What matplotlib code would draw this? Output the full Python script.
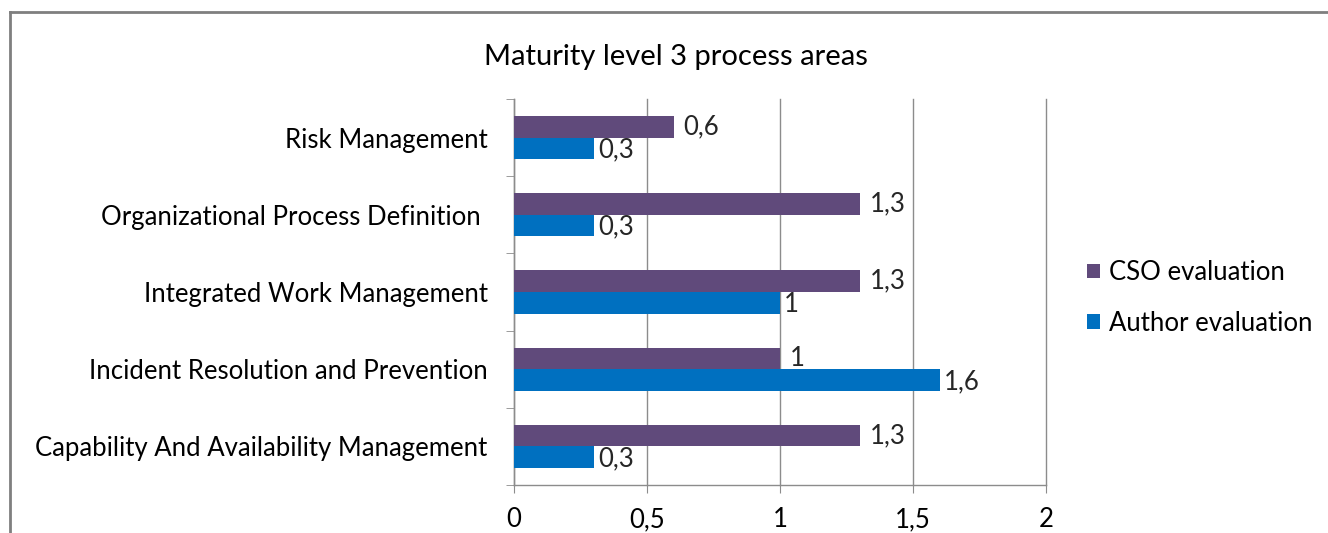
import matplotlib.pyplot as plt
from matplotlib.lines import Line2D

plt.rcParams['font.family'] = ['Lato', 'DejaVu Sans']

categories = [
    "Capability And Availability Management",
    "Incident Resolution and Prevention",
    "Integrated Work Management",
    "Organizational Process Definition ",
    "Risk Management",
]
cso_values = [1.3, 1.0, 1.3, 1.3, 0.6]
author_values = [0.3, 1.6, 1.0, 0.3, 0.3]
x_ticks = [0, 0.5, 1, 1.5, 2]

cso_color = "#604A7B"
author_color = "#0070C0"
grid_color = "#8C8C8C"
fs = 18.5


def fmt(v):
    return f"{v:g}".replace(".", ",")


fig = plt.figure(figsize=(13.28, 5.33), dpi=100)
ax = fig.add_axes([514 / 1328, 1 - 485 / 533, 532 / 1328, 386 / 533])

pos = list(range(len(categories)))
h = 0.28
ax.barh([p + h / 2 for p in pos], cso_values, height=h, color=cso_color,
        label="CSO evaluation", zorder=3)
ax.barh([p - h / 2 for p in pos], author_values, height=h, color=author_color,
        label="Author evaluation", zorder=3)

for p, c, a in zip(pos, cso_values, author_values):
    ax.annotate(fmt(c), (c, p + h / 2), xytext=(7, 0), textcoords="offset points",
                va="center", ha="left", fontsize=fs, color="#262626")
    ax.annotate(fmt(a), (a, p - h / 2 - 0.02), xytext=(3, 0), textcoords="offset points",
                va="center", ha="left", fontsize=fs, color="#262626")

ax.set_xlim(0, 2)
ax.set_ylim(-0.5, len(categories) - 0.5)
ax.set_xticks(x_ticks)
ax.set_xticklabels([fmt(t) for t in x_ticks], fontsize=fs)
ax.set_yticks(pos)
ax.set_yticklabels(categories, fontsize=fs)
ax.tick_params(axis="y", length=0, pad=19)
ax.set_yticks([p + 0.5 for p in [-1] + pos], minor=True)
ax.tick_params(axis="y", which="minor", length=6, color=grid_color, direction="out")
ax.tick_params(axis="x", length=6, color=grid_color, pad=10)

ax.grid(axis="x", color=grid_color, linewidth=1, zorder=0)
for gl in ax.get_xgridlines():
    gl.set_clip_on(False)
for side in ["top", "right"]:
    ax.spines[side].set_visible(False)
for side in ["left", "bottom"]:
    ax.spines[side].set_color(grid_color)
    ax.spines[side].set_linewidth(1)

handles, labels = ax.get_legend_handles_labels()
fig.legend(handles, labels, loc="center left",
           bbox_to_anchor=(1064 / 1328, 1 - 298 / 533), frameon=False,
           fontsize=fs, handlelength=0.5, handleheight=0.5, handletextpad=0.35,
           labelspacing=1.0)

fig.text(676 / 1328, 1 - 57 / 533, "Maturity level 3 process areas",
         ha="center", va="center", fontsize=21)

# outer chart border
fig.add_artist(Line2D([10 / 1328, 10 / 1328], [0, 1 - 12 / 533],
                      transform=fig.transFigure, color="#7F7F7F", linewidth=2))
fig.add_artist(Line2D([10 / 1328, 1], [1 - 12 / 533, 1 - 12 / 533],
                      transform=fig.transFigure, color="#7F7F7F", linewidth=2))

fig.savefig("out.png", dpi=100, facecolor="white")
